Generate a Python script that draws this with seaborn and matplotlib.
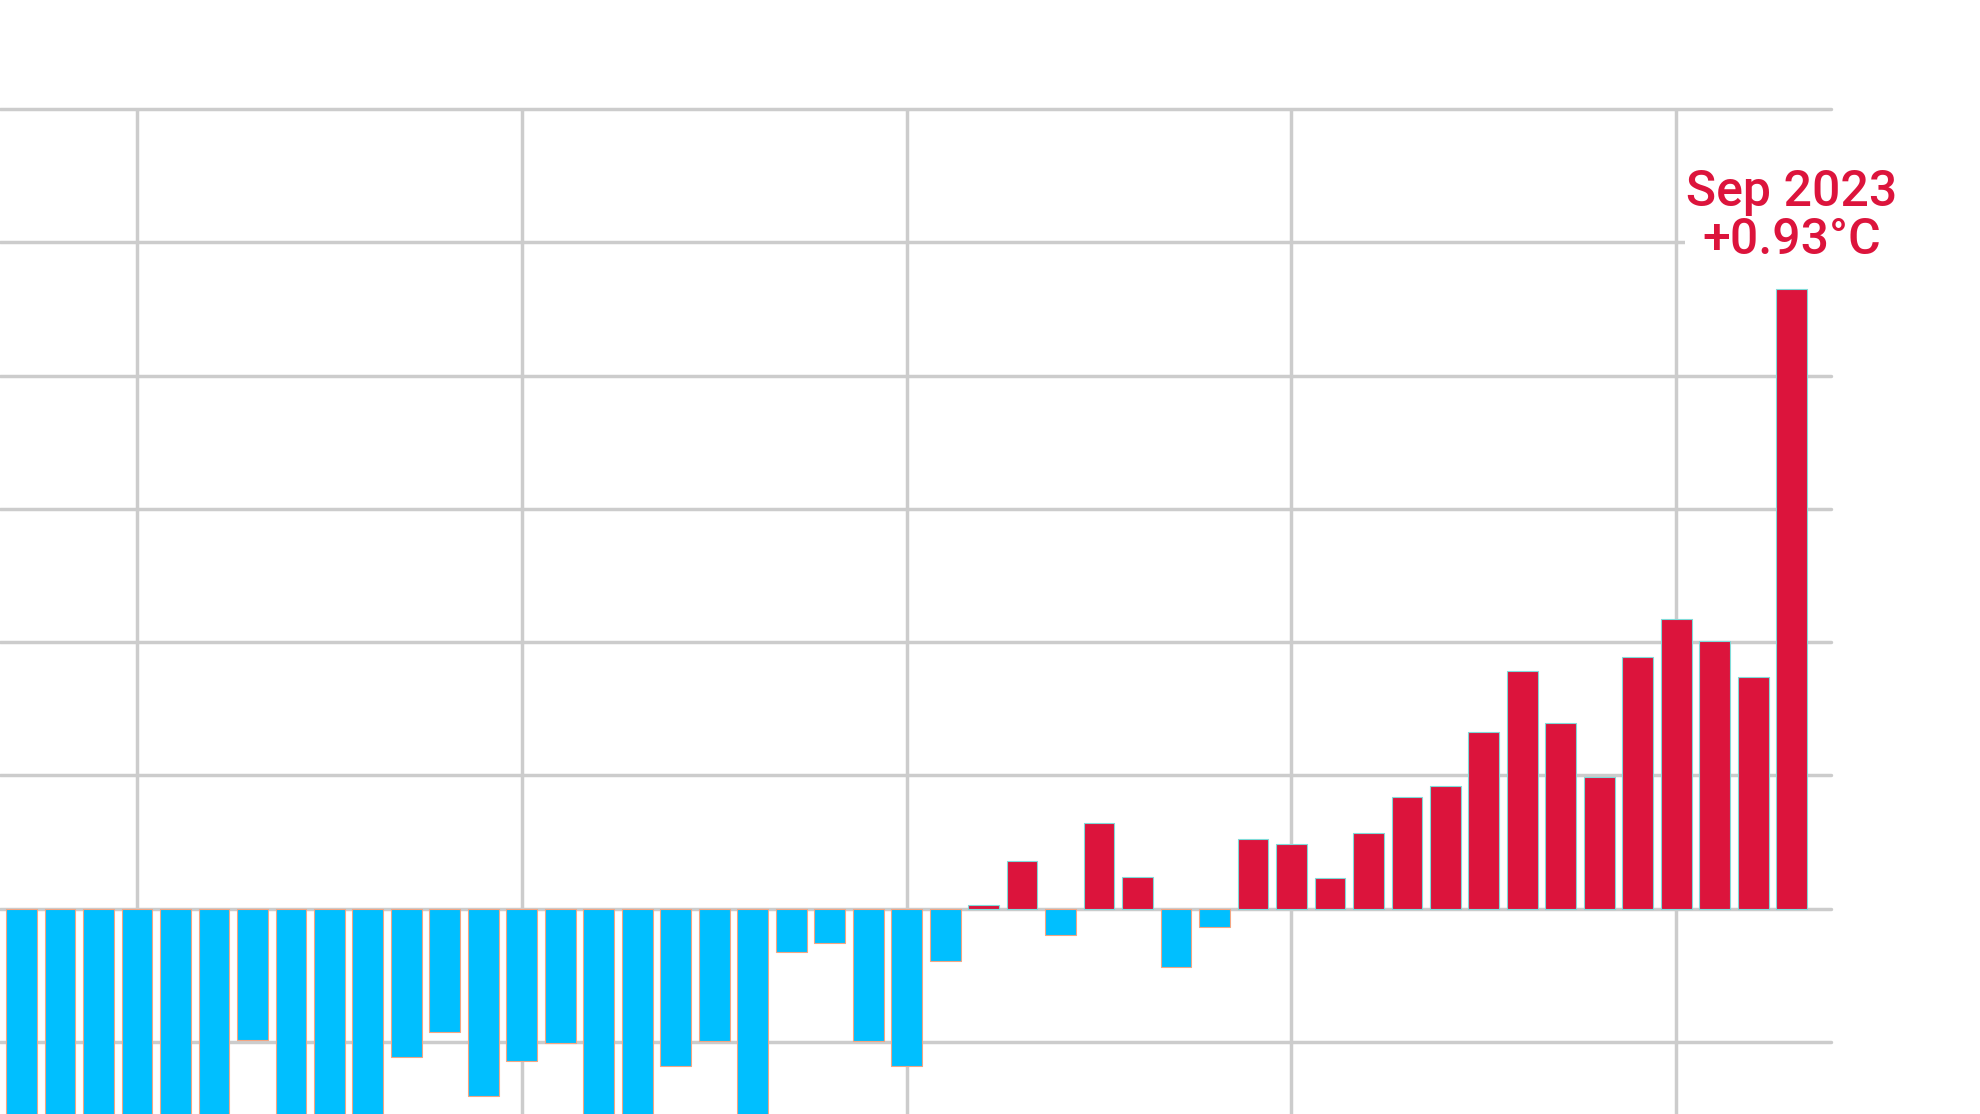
import numpy   as np
import pandas  as pd
import seaborn as sns; sns.set_theme(style="white")

from matplotlib import pyplot as plt

plt.rcParams['font.family'] = ['Roboto', 'DejaVu Sans']

# september temperature anomaly (degC), one bar per year
YEARS   = list(range(1977, 2024))
ANOMALY = [-0.38 , -0.45 , -0.33 , -0.36 , -0.41 , -0.42 , -0.197, -0.44 , -0.37 , -0.34 ,
           -0.223, -0.185, -0.281, -0.229, -0.201, -0.40 , -0.38 , -0.236, -0.199, -0.33 ,
           -0.065, -0.052, -0.199, -0.236, -0.078,  0.006,  0.072, -0.040,  0.128,  0.048,
           -0.088, -0.028,  0.104,  0.097,  0.046,  0.113,  0.168,  0.184,  0.265,  0.357,
            0.279,  0.198,  0.377,  0.434,  0.402,  0.348,  0.93 ]

GRID_YEARS = [1980, 1990, 2000, 2010, 2020]
Y_GRID     = [-0.2, 0.0, 0.2, 0.4, 0.6, 0.8, 1.0, 1.2]
LABEL      = "Sep 2023\n+0.93°C"

WARM, COLD = 'crimson', 'deepskyblue'

def bars(ax, data):
    sns.barplot( data=data, x='year', y='anomaly', hue='sign',
                 palette={'warm':WARM, 'cold':COLD}, saturation=1,
                 dodge=False, width=.8, legend=False, ax=ax, zorder=3 )
    for p in ax.patches:
        edge = '#f4a582' if p.get_y() + p.get_height() < 0 or p.get_height() < 0 else '#7fdbd9'
        p.set_edgecolor(edge)
        p.set_linewidth(.8)

def decorate(ax):
    ax.set_xticks( [YEARS.index(y) for y in GRID_YEARS] )
    ax.set_yticks( Y_GRID )
    ax.grid( True, color='#cccccc', linewidth=2.5 )
    ax.set_axisbelow(True)
    for line in ax.get_ygridlines():
        line.set_clip_on(False)
    ax.tick_params( length=0, labelbottom=False, labelleft=False )
    for s in ax.spines.values():
        s.set_visible(False)
    ax.set_xlabel('')
    ax.set_ylabel('')
    ax.set_xlim( -0.559, 47.02 )
    ax.set_ylim( -0.308, 1.2 )

def main():
    data         = pd.DataFrame({ 'year':YEARS, 'anomaly':ANOMALY })
    data['sign'] = np.where( data['anomaly'] >= 0, 'warm', 'cold' )

    fig = plt.figure( figsize=(19.8, 11.14), dpi=100, facecolor='white' )
    ax  = fig.add_axes( [0, 0, 1831/1980, 1 - 109/1114] )

    bars(ax, data)
    decorate(ax)

    ax.text( len(YEARS) - 1, 0.982, LABEL, ha='center', va='baseline',
             color=WARM, fontsize=36, fontweight='medium', linespacing=1.0,
             clip_on=False, zorder=4,
             bbox=dict(fc='white', ec='none', pad=1) )

    fig.savefig('out.png', dpi=100, facecolor='white')

if __name__ == '__main__':
    main()
